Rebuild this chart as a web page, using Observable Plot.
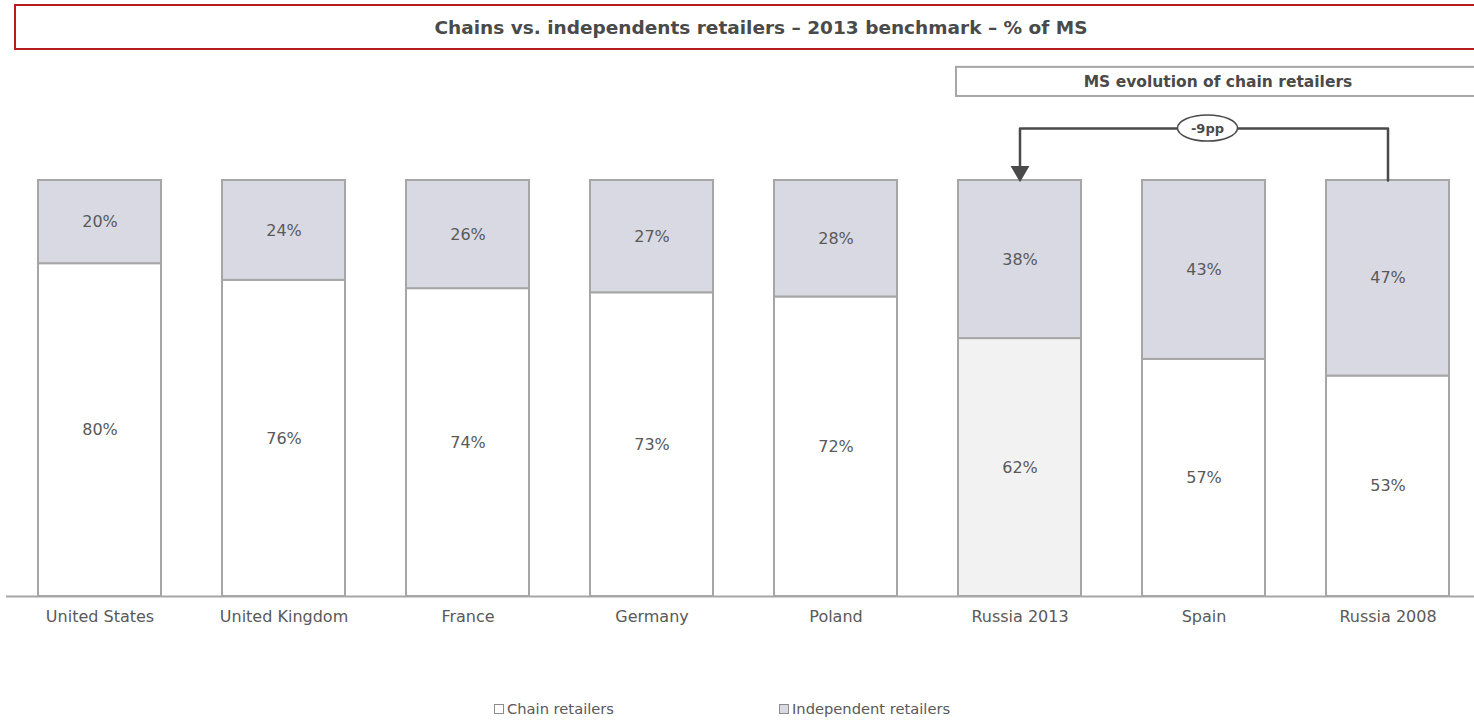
<!DOCTYPE html>
<html>
<head>
<meta charset="utf-8">
<script src="https://cdn.jsdelivr.net/npm/d3@7"></script>
<script src="https://cdn.jsdelivr.net/npm/@observablehq/plot@0.6"></script>
<style>
  html, body { margin: 0; padding: 0; background: #fff; overflow: hidden; width: 1474px; height: 721px; }
  body { font-family: "DejaVu Sans", Verdana, sans-serif; color: #4a4a4a; }
  #title { margin: 4px 0 0 14px; width: 1490px; height: 42px; border: 2px solid #b51c1c; box-sizing: content-box;
           display: flex; align-items: center; justify-content: center; font-weight: bold; font-size: 18.5px; color: #4a4a4a; }
  #chart svg { display: block; overflow: hidden; }
  #legend { margin-top: 48px; padding-left: 494px; font-size: 14.7px; color: #595959; white-space: nowrap; height: 22px; line-height: 22px; }
  .item { display: inline-block; width: 285px; }
  .sw { display: inline-block; width: 8px; height: 8px; border: 1px solid #8c8c8c; margin-right: 3px; vertical-align: 0px; }
</style>
</head>
<body>
<div id="title">Chains vs. independents retailers – 2013 benchmark – % of MS</div>
<div id="chart"></div>
<div id="legend"></div>
<script>
const categories = ["United States", "United Kingdom", "France", "Germany", "Poland", "Russia 2013", "Spain", "Russia 2008"];
const chainShare = [80, 76, 74, 73, 72, 62, 57, 53];
const independentShare = [20, 24, 26, 27, 28, 38, 43, 47];
const seriesNames = ["Chain retailers", "Independent retailers"];
const highlight = "Russia 2013";
const compareFrom = "Russia 2008";
const boxTitle = "MS evolution of chain retailers";

const colors = { chain: "#ffffff", chainHighlight: "#f2f2f2", independent: "#d9d9e3", stroke: "#a6a6a6", text: "#595959" };

const data = categories.flatMap((c, i) => [
  { cat: c, type: seriesNames[0], value: chainShare[i] },
  { cat: c, type: seriesNames[1], value: independentShare[i] }
]);

const delta = chainShare[categories.indexOf(compareFrom)] - chainShare[categories.indexOf(highlight)];
const arrowLevel = 112.5;
const connector = [
  { cat: compareFrom, y: 100 },
  { cat: compareFrom, y: arrowLevel },
  { cat: highlight, y: arrowLevel },
  { cat: highlight, y: 102.2 }
];

const plot = Plot.plot({
  width: 1474,
  height: 600,
  marginTop: 130,
  marginBottom: 54,
  marginLeft: 6,
  marginRight: -6,
  style: { fontFamily: "DejaVu Sans, Verdana, sans-serif", color: colors.text, background: "transparent" },
  x: { domain: categories, paddingInner: 0.333, paddingOuter: 0.1667, label: null },
  y: { domain: [0, 100], axis: null },
  marks: [
    Plot.barY(data, {
      x: "cat", y: "value", z: "type",
      fill: d => d.type === seriesNames[1] ? colors.independent : (d.cat === highlight ? colors.chainHighlight : colors.chain),
      stroke: colors.stroke, strokeWidth: 2
    }),
    Plot.text(data, Plot.stackY({
      x: "cat", y: "value", z: "type",
      text: d => d.value + "%", fontSize: 16, fill: colors.text
    })),
    Plot.ruleY([0], { stroke: colors.stroke, strokeWidth: 2 }),
    Plot.axisX({ tickSize: 0, tickPadding: 14, fontSize: 16, fill: colors.text }),
    Plot.line(connector, { x: "cat", y: "y", stroke: "#4a4a4a", strokeWidth: 2.5, curve: "linear" }),
    Plot.dot([connector[3]], { x: "cat", y: "y", symbol: "triangle", rotate: 180, r: 7, fill: "#4a4a4a", stroke: null })
  ]
});
document.getElementById("chart").appendChild(plot);

// annotations derived from scales
const xs = plot.scale("x"), ys = plot.scale("y");
const svg = d3.select(plot);
const bw = xs.bandwidth;
const x13 = xs.apply(highlight), x08 = xs.apply(compareFrom);
const g = svg.append("g");
// box title
const bx = x13 - 2;
const by1 = ys.apply(127.2), by2 = ys.apply(120.2);
g.append("rect").attr("x", bx).attr("y", by1).attr("width", 1474 - bx + 20).attr("height", by2 - by1)
  .attr("fill", "white").attr("stroke", "#a6a6a6").attr("stroke-width", 2);
g.append("text").attr("x", (bx + 1480) / 2).attr("y", (by1 + by2) / 2).attr("dy", "0.35em")
  .attr("text-anchor", "middle").attr("font-weight", "bold").attr("font-size", 15.5).attr("fill", "#4a4a4a")
  .text(boxTitle);
// delta ellipse
const cx = x13 + bw / 2 + (x08 - x13) * 0.5 + 4;
const cy = ys.apply(arrowLevel);
g.append("ellipse").attr("cx", cx).attr("cy", cy).attr("rx", 30).attr("ry", 13)
  .attr("fill", "white").attr("stroke", "#4a4a4a").attr("stroke-width", 1.5);
g.append("text").attr("x", cx).attr("y", cy).attr("dy", "0.35em").attr("text-anchor", "middle")
  .attr("font-weight", "bold").attr("font-size", 13).attr("fill", "#4a4a4a").text(delta + "pp");

// legend
const legend = d3.select("#legend");
const fills = [colors.chain, colors.independent];
seriesNames.forEach((n, i) => {
  const it = legend.append("span").attr("class", "item");
  it.append("span").attr("class", "sw").style("background", fills[i]);
  it.append("span").text(n);
});
</script>
</body>
</html>
